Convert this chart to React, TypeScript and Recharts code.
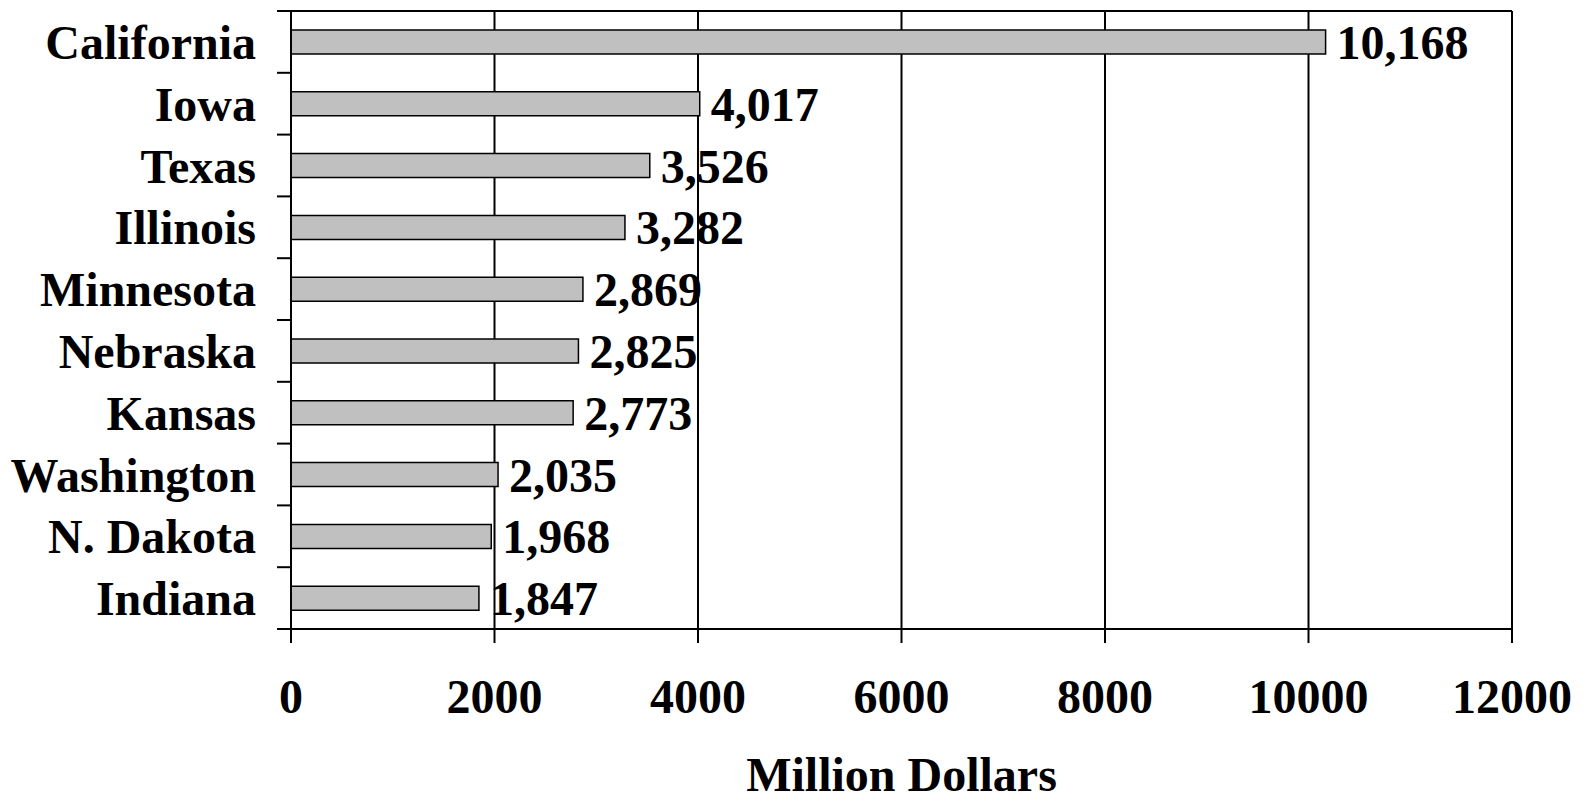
import React from "react";
import { BarChart, Bar, XAxis, YAxis, CartesianGrid, LabelList } from "recharts";

const states = ["California", "Iowa", "Texas", "Illinois", "Minnesota", "Nebraska", "Kansas", "Washington", "N. Dakota", "Indiana"];
const values = [10168, 4017, 3526, 3282, 2869, 2825, 2773, 2035, 1968, 1847];
const xTicks = [0, 2000, 4000, 6000, 8000, 10000, 12000];

const data = states.map((s, i) => ({ state: s, value: values[i] }));

const FONT = "'Liberation Serif', 'Times New Roman', serif";
const FS = 48;
const CAT_MARGIN = 35;
const CAT_TICK = 14;

const CategoryTick = (props: any) => {
  const { x, y, payload, index, visibleTicksCount } = props;
  const half = payload && payload.offset ? payload.offset : 0;
  const axisX = x + CAT_MARGIN;
  const isLast = index === visibleTicksCount - 1;
  return (
    <g>
      <line x1={axisX - CAT_TICK} x2={axisX} y1={y - half} y2={y - half} stroke="#000" strokeWidth={2} />
      {isLast && (
        <line x1={axisX - CAT_TICK} x2={axisX} y1={y + half} y2={y + half} stroke="#000" strokeWidth={2} />
      )}
      <text
        x={x}
        y={y}
        dy="0.355em"
        textAnchor="end"
        fill="#000"
        fontFamily={FONT}
        fontWeight="bold"
        fontSize={FS}
      >
        {payload.value}
      </text>
    </g>
  );
};

export default function App() {
  return (
    <div style={{ position: "absolute", left: 0, top: 0, background: "#fff" }}>
      <BarChart
        width={1585}
        height={794}
        data={data}
        layout="vertical"
        margin={{ top: 11, right: 73, left: 0, bottom: 0 }}
        barSize={24}
      >
        <CartesianGrid
          stroke="#000"
          strokeWidth={2}
          horizontalCoordinatesGenerator={(p: any) => [p.offset.top]}
        />
        <XAxis
          type="number"
          domain={[0, 12000]}
          ticks={xTicks}
          interval={0}
          height={165}
          axisLine={{ stroke: "#000", strokeWidth: 2 }}
          tickLine={{ stroke: "#000", strokeWidth: 2 }}
          tickSize={14}
          tickMargin={36}
          tick={{ fill: "#000", fontFamily: FONT, fontWeight: "bold", fontSize: FS }}
          label={{
            value: "Million Dollars",
            position: "insideBottom",
            offset: 3,
            fill: "#000",
            fontFamily: FONT,
            fontWeight: "bold",
            fontSize: FS,
          }}
        />
        <YAxis
          type="category"
          dataKey="state"
          width={291}
          interval={0}
          axisLine={{ stroke: "#000", strokeWidth: 2 }}
          tickLine={false}
          tickSize={0}
          tickMargin={CAT_MARGIN}
          tick={<CategoryTick />}
        />
        <Bar dataKey="value" fill="#C0C0C0" stroke="#000" strokeWidth={1.5} isAnimationActive={false}>
          <LabelList
            dataKey="value"
            position="right"
            offset={11}
            formatter={(v: any) => Number(v).toLocaleString("en-US")}
            style={{ fill: "#000", fontFamily: FONT, fontWeight: "bold", fontSize: FS }}
          />
        </Bar>
      </BarChart>
    </div>
  );
}
